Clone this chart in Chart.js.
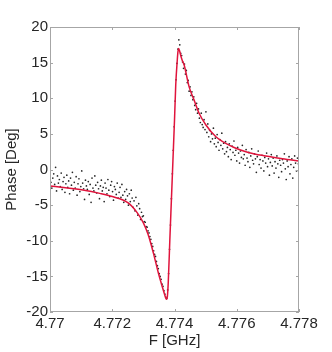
<!DOCTYPE html>
<html>
<head>
<meta charset="utf-8">
<script src="https://cdn.jsdelivr.net/npm/chart.js@4/dist/chart.umd.min.js"></script>
<style>
  html, body { margin: 0; padding: 0; background: #fff; }
  #wrap { width: 332px; height: 352px; }
</style>
</head>
<body>
<div id="wrap"><canvas id="phaseChart" width="332" height="352"></canvas></div>
<script>
// frequency sweep grid (GHz)
const freqStart = 4.77;
const freqStep = 0.00003;

// measured phase (deg), one per sweep point
const measuredPhase = [
  -0.3, -1.8, -2.6, -1.2, -0.6, -2.1, 0.3, -3.0, -0.9, -1.9,
  -1.4, -2.4, -0.5, -2.8, -1.7, -1.1, -3.2, -2.0, -0.8, -2.5,
  -1.6, -3.4, -1.2, -2.2, -0.4, -2.9, -1.8, -2.6, -1.0, -3.6,
  -2.0, -1.3, -3.1, -2.4, -0.2, -1.9, -2.7, -4.2, -1.5, -2.3,
  -2.8, -1.7, -3.5, -2.1, -4.6, -1.2, -2.6, -3.0, -0.9, -2.2,
  -3.3, -1.8, -2.7, -4.1, -2.3, -1.5, -3.0, -2.5, -4.5, -1.9,
  -2.6, -3.4, -1.4, -2.9, -3.8, -2.2, -1.7, -3.1, -4.3, -2.4,
  -2.8, -3.5, -1.9, -4.0, -3.2, -2.5, -3.9, -2.1, -3.6, -4.6,
  -3.1, -4.2, -2.8, -3.7, -5.0, -3.4, -4.5, -2.9, -4.0, -5.3,
  -4.4, -5.8, -3.9, -5.1, -6.4, -4.8, -5.5, -7.0, -6.0, -6.6,
  -6.5, -7.3, -7.4, -8.0, -8.1, -8.6, -8.9, -9.4, -9.8, -10.4,
  -10.8, -11.4, -11.9, -12.2, -12.9, -13.5, -13.9, -14.6, -15.0, -15.4,
  -16.1, -16.4, -17.0, -17.5, -17.9, -18.1,
  -16.9, -14.6, -11.2, -7.8, -4.1, -0.6, 2.7, 6.0, 9.6, 12.6, 14.9, 16.9, 18.2, 17.5, 16.3,
  16.0, 15.1, 14.2, 14.8, 13.4, 13.9, 12.2, 12.5, 11.0, 11.6,
  10.4, 10.9, 9.8, 10.2, 9.0, 8.4, 9.3, 7.9, 8.5, 7.2,
  6.6, 7.9, 6.3, 5.9, 7.0, 5.6, 8.1,
  5.2, 6.4, 4.6, 5.5, 3.9, 5.0, 4.3, 5.8, 3.6, 4.4,
  3.2, 4.9, 3.8, 2.7, 4.2, 3.4, 5.1, 2.9, 3.7, 2.2,
  3.9, 2.5, 3.1, 1.8, 3.6, 2.8, 1.4, 3.3, 2.4, 4.0,
  2.0, 2.7, 1.2, 3.1, 2.3, 0.9, 2.6, 1.7, 3.4, 1.5,
  2.1, 0.6, 2.8, 1.6, 1.1, 2.4, 0.3, 1.9, 2.9, 1.3,
  0.8, 2.2, 1.5, -0.4, 1.8, 2.6, 0.7, 1.4, 0.2, 2.0,
  1.2, -0.2, 1.7, 0.9, 2.3, 0.4, 1.5, -0.8, 1.0, 2.1,
  0.5, 1.6, -0.5, 1.1, 0.2, 1.9, 0.8, -1.1, 1.3, 0.6,
  -0.3, 1.4, 0.9, 2.2, 0.1, -1.4, 1.2, 0.4, 1.8, -0.6,
  0.7, 1.5, -1.2, 0.3, 1.9, 0.9, -0.2, 1.6, 0.8
];

// fitted curve
const fitFreq = [
  4.7700, 4.7705, 4.7711, 4.7716, 4.7720, 4.7725, 4.7728, 4.7730,
  4.77315, 4.77332, 4.77348, 4.7736, 4.77368, 4.77372, 4.77375, 4.77377,
  4.7738, 4.77385, 4.7739, 4.77395, 4.774, 4.77404, 4.77409, 4.77411,
  4.77413, 4.77416, 4.7742, 4.77425, 4.77431, 4.77447, 4.77463, 4.77479,
  4.77501, 4.77533, 4.77586, 4.7764, 4.77693, 4.77747, 4.778
];
const fitPhase = [
  -2.3, -2.55, -2.9, -3.35, -3.8, -4.65, -6.05, -7.5,
  -9.1, -11.7, -14.5, -16.35, -17.5, -18.05, -18.2, -17.9,
  -15.8, -9.9, -4.3, 1.3, 6.9, 11.9, 15.4, 16.5,
  17.0, 16.7, 16.0, 15.3, 14.67, 11.6, 9.75, 7.89,
  6.25, 4.6, 3.2, 2.36, 1.9, 1.52, 1.2
];

const xTicks = [4.77, 4.772, 4.774, 4.776, 4.778];
const yTicks = [-20, -15, -10, -5, 0, 5, 10, 15, 20];

const measured = measuredPhase.map((p, i) => ({ x: freqStart + i * freqStep, y: p }));
const fit = fitFreq.map((f, i) => ({ x: f, y: fitPhase[i] }));

const textColor = "#262626";
const font = { family: "'Liberation Sans', Arial, sans-serif", size: 15 };

// box round the plot with inward tick marks (matlab look)
const framePlugin = {
  id: "frame",
  afterDatasetsDraw(chart) {
    const { ctx, chartArea: a, scales } = chart;
    ctx.save();
    ctx.strokeStyle = "#a6a6a6";
    ctx.lineWidth = 1;
    ctx.strokeRect(a.left + 0.5, a.top + 0.5, a.right - a.left - 1, a.bottom - a.top - 1);
    ctx.beginPath();
    xTicks.forEach((v) => {
      const px = Math.round(scales.x.getPixelForValue(v)) + 0.5;
      ctx.moveTo(px, a.bottom);
      ctx.lineTo(px, a.bottom - 3);
      ctx.moveTo(px, a.top);
      ctx.lineTo(px, a.top + 3);
    });
    yTicks.forEach((v) => {
      const py = Math.round(scales.y.getPixelForValue(v)) + 0.5;
      ctx.moveTo(a.left, py);
      ctx.lineTo(a.left + 3, py);
      ctx.moveTo(a.right, py);
      ctx.lineTo(a.right - 3, py);
    });
    ctx.stroke();
    ctx.restore();
  },
};

new Chart(document.getElementById("phaseChart"), {
  type: "scatter",
  data: {
    datasets: [
      {
        label: "fit",
        data: fit,
        showLine: true,
        borderColor: "#e0143c",
        borderWidth: 1.5,
        pointRadius: 0,
        cubicInterpolationMode: "monotone",
        order: 0,
      },
      {
        label: "measured",
        data: measured,
        backgroundColor: "#262626",
        borderWidth: 0,
        pointRadius: 0.85,
        order: 1,
      },
    ],
  },
  options: {
    responsive: false,
    animation: false,
    layout: { padding: { left: 0, right: 33, top: 27, bottom: 0 } },
    plugins: { legend: { display: false }, tooltip: { enabled: false } },
    scales: {
      x: {
        type: "linear",
        min: 4.77,
        max: 4.778,
        afterBuildTicks: (s) => { s.ticks = xTicks.map((v) => ({ value: v })); },
        afterFit: (s) => { s.height = 40; },
        grid: { display: false, drawTicks: false },
        border: { display: false },
        ticks: {
          color: textColor,
          font,
          padding: 3,
          maxRotation: 0,
          callback: (v) => String(Number(v.toFixed(3))),
        },
        title: { display: true, text: "F [GHz]", color: textColor, font, padding: { top: 0, bottom: 2 } },
      },
      y: {
        min: -20,
        max: 20,
        afterBuildTicks: (s) => { s.ticks = yTicks.map((v) => ({ value: v })); },
        afterFit: (s) => { s.width = 50; },
        grid: { display: false, drawTicks: false },
        border: { display: false },
        ticks: { color: textColor, font, padding: 2, callback: (v) => String(v) },
        title: { display: true, text: "Phase [Deg]", color: textColor, font, padding: { top: 3, bottom: 0 } },
      },
    },
  },
  plugins: [framePlugin],
});
</script>
</body>
</html>
